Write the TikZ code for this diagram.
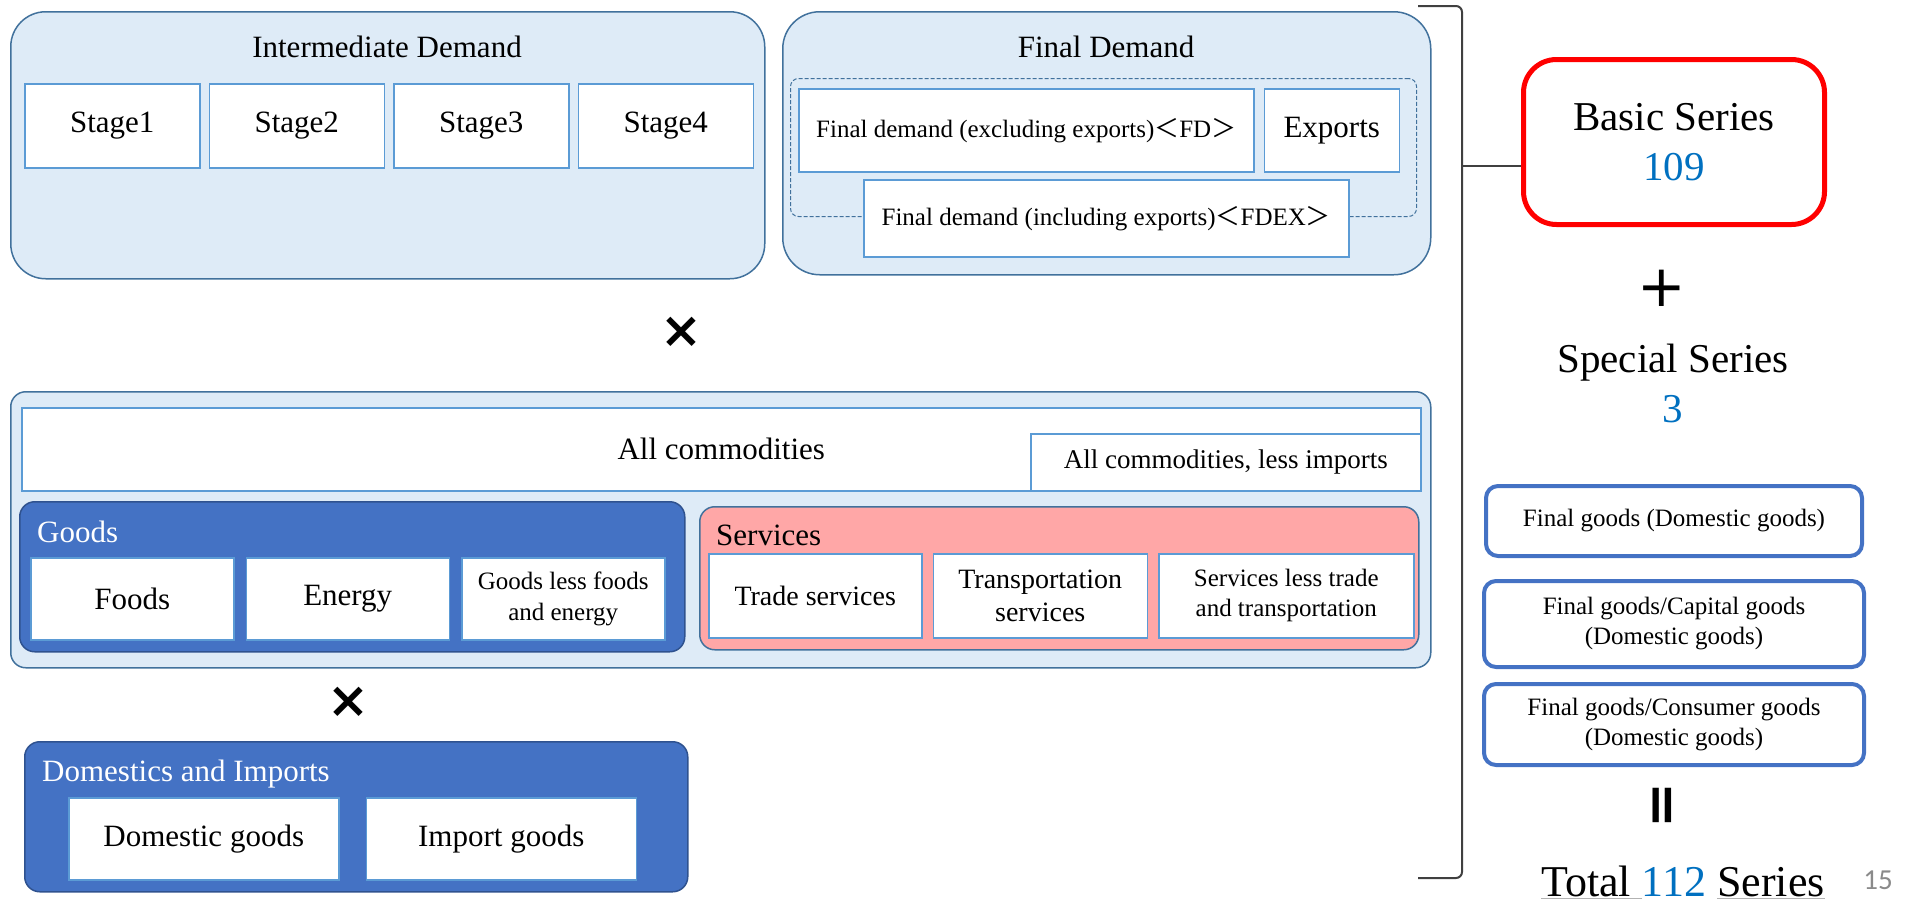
\documentclass[tikz,border=0pt]{standalone}
\usepackage{fontspec}
\setmainfont{Liberation Serif}
\newfontfamily\timesfont{Liberation Serif}
\newfontfamily\cjk{Noto Sans CJK JP}
\newfontfamily\symfont{DejaVu Sans}
\newfontfamily\pagefont{Carlito}
\usepackage{xcolor}
\usetikzlibrary{positioning}

\definecolor{edgeblue}{HTML}{41719C}
\definecolor{paleblue}{HTML}{DEEBF7}
\definecolor{cellblue}{HTML}{5B9BD5}
\definecolor{goodsblue}{HTML}{4472C4}
\definecolor{darkedge}{HTML}{2F528F}
\definecolor{servpink}{HTML}{FFA7A7}
\definecolor{numblue}{HTML}{0070C0}

\newcommand{\txtsize}[2]{\timesfont\fontsize{#1}{#2}\selectfont}
\newcommand{\openang}{{\cjk ＜}}
\newcommand{\closeang}{{\cjk ＞}}
\newcommand{\grayline}[1]{\setbox0\hbox{#1}\rlap{\color{black!30}\rule[-3pt]{\wd0}{1pt}}\box0}

\begin{document}
\begin{tikzpicture}[
    x=1pt, y=-1pt,
    group/.style={draw=edgeblue, fill=paleblue, line width=1.5pt, inner sep=0pt, anchor=north west},
    darkgroup/.style={group, fill=goodsblue, draw=darkedge},
    grouptitle/.style={anchor=base west, inner sep=0pt, font=\txtsize{31pt}{36pt}},
    cell/.style={draw=cellblue, fill=white, line width=1.5pt, inner sep=0pt, anchor=north west, align=center, font=\txtsize{31pt}{36pt}},
    seriesbox/.style={draw=goodsblue, line width=4pt, rounded corners=12pt, inner sep=0pt, align=center, font=\txtsize{25pt}{30pt}},
    bracket/.style={draw=black!75, line width=2pt, rounded corners=6pt},
    cross/.style={font=\symfont\bfseries\fontsize{50pt}{50pt}\selectfont},
    op/.style={font=\symfont\fontsize{58pt}{58pt}\selectfont}
]
\useasboundingbox (0,0) rectangle (1908,902);

\node[group, rounded corners=35pt, minimum width=754pt, minimum height=267pt] (inter) at (10,11) {};
\node[anchor=base, font=\txtsize{31pt}{36pt}] (intertitle) at (387,57) {Intermediate Demand};
\node[cell, minimum width=175pt, minimum height=84pt] (stage1) at (24,83) {Stage1};
\node[cell, minimum width=175pt, minimum height=84pt, right=8pt of stage1] (stage2) {Stage2};
\node[cell, minimum width=175pt, minimum height=84pt, right=8pt of stage2] (stage3) {Stage3};
\node[cell, minimum width=175pt, minimum height=84pt, right=8pt of stage3] (stage4) {Stage4};

\node[group, rounded corners=37pt, minimum width=648pt, minimum height=263pt] (final) at (782,11) {};
\node[anchor=base, font=\txtsize{31pt}{36pt}] (finaltitle) at (1106,57) {Final Demand};
\node[draw=edgeblue, dashed, dash pattern=on 4pt off 2pt, line width=1pt, rounded corners=8pt, minimum width=626pt, minimum height=138pt, anchor=north west] (fdgroup) at (790,78) {};
\node[cell, minimum width=455pt, minimum height=83pt, font=\txtsize{25pt}{30pt}] (fd) at (798,88) {Final demand (excluding exports)\openang FD\closeang};
\node[cell, minimum width=135pt, minimum height=83pt, right=9pt of fd] (exports) {Exports};
\node[cell, minimum width=485pt, minimum height=77pt, font=\txtsize{25pt}{30pt}] (fdex) at (863,179) {Final demand (including exports)\openang FDEX\closeang};

\node[cross] (times1) at (681,332) {×};

\node[group, rounded corners=15pt, minimum width=1420pt, minimum height=276pt] (commod) at (10,391) {};
\node[cell, minimum width=1399pt, minimum height=83pt] (all) at (21,407) {All commodities};
\node[cell, minimum width=390pt, minimum height=57pt, anchor=south east, font=\txtsize{27pt}{32pt}] (lessimp) at (all.south east) {All commodities, less imports};

\node[darkgroup, rounded corners=15pt, minimum width=665pt, minimum height=150pt] (goods) at (19,501) {};
\node[grouptitle, text=white] (goodstitle) at (37,542) {Goods};
\node[cell, minimum width=203pt, minimum height=82pt] (foods) at (30,557) {Foods};
\node[cell, minimum width=203pt, minimum height=82pt, right=11pt of foods] (energy) {Energy};
\node[cell, minimum width=203pt, minimum height=82pt, right=11pt of energy, font=\txtsize{25pt}{31pt}] (goodsless) {Goods less foods\\and energy};

\node[group, fill=servpink, rounded corners=15pt, minimum width=719pt, minimum height=143pt] (services) at (699,506) {};
\node[grouptitle] (servtitle) at (716,545) {Services};
\node[cell, minimum width=213pt, minimum height=84pt, font=\txtsize{28pt}{33pt}] (trade) at (708,553) {Trade services};
\node[cell, minimum width=214pt, minimum height=84pt, right=10pt of trade, font=\txtsize{28pt}{33pt}] (transport) {Transportation\\services};
\node[cell, minimum width=255pt, minimum height=84pt, right=10pt of transport, font=\txtsize{25pt}{30pt}] (servless) {Services less trade\\and transportation};

\node[cross] (times2) at (348,702) {×};

\node[darkgroup, rounded corners=15pt, minimum width=663pt, minimum height=150pt] (origin) at (24,741) {};
\node[grouptitle, text=white] (origintitle) at (42,781) {Domestics and Imports};
\node[cell, minimum width=270pt, minimum height=82pt] (domestic) at (68,797) {Domestic goods};
\node[cell, minimum width=270pt, minimum height=82pt, right=26pt of domestic] (import) {Import goods};

\draw[bracket] (1418,6) -- (1462,6) -- (1462,878) -- (1418,878);
\coordinate (tick) at (1462,166);
\node[draw=red, line width=5pt, rounded corners=33pt, minimum width=301pt, minimum height=165pt, align=center, font=\txtsize{41pt}{50pt}] (basic) at (1674,142) {Basic Series\\\textcolor{numblue}{109}};
\draw[bracket] (tick) -- (tick -| basic.west);

\node[op] (plus) at (1662,288) {+};
\node[align=center, font=\txtsize{41pt}{50pt}] (special) at (1673,383) {Special Series\\\textcolor{numblue}{3}};

\node[seriesbox, minimum width=376pt, minimum height=70pt] (final1) at (1674,521) {Final goods (Domestic goods)};
\node[seriesbox, minimum width=380pt, minimum height=86pt, below=21pt of final1] (final2) {Final goods/Capital goods\\(Domestic goods)};
\node[seriesbox, minimum width=380pt, minimum height=81pt, below=13pt of final2] (final3) {Final goods/Consumer goods\\(Domestic goods)};

\node[op, font=\symfont\bfseries\fontsize{55pt}{55pt}\selectfont, rotate=90] (equals) at (1666,805) {=};
\node[anchor=base, inner sep=0pt, font=\txtsize{44pt}{48pt}] (total) at (1683,896) {\grayline{Total\ }\textcolor{numblue}{112} \grayline{Series}};
\node[anchor=base, font=\pagefont\fontsize{29pt}{34pt}\selectfont, text=black!46] (pagenum) at (1878,889) {15};
\end{tikzpicture}
\end{document}
